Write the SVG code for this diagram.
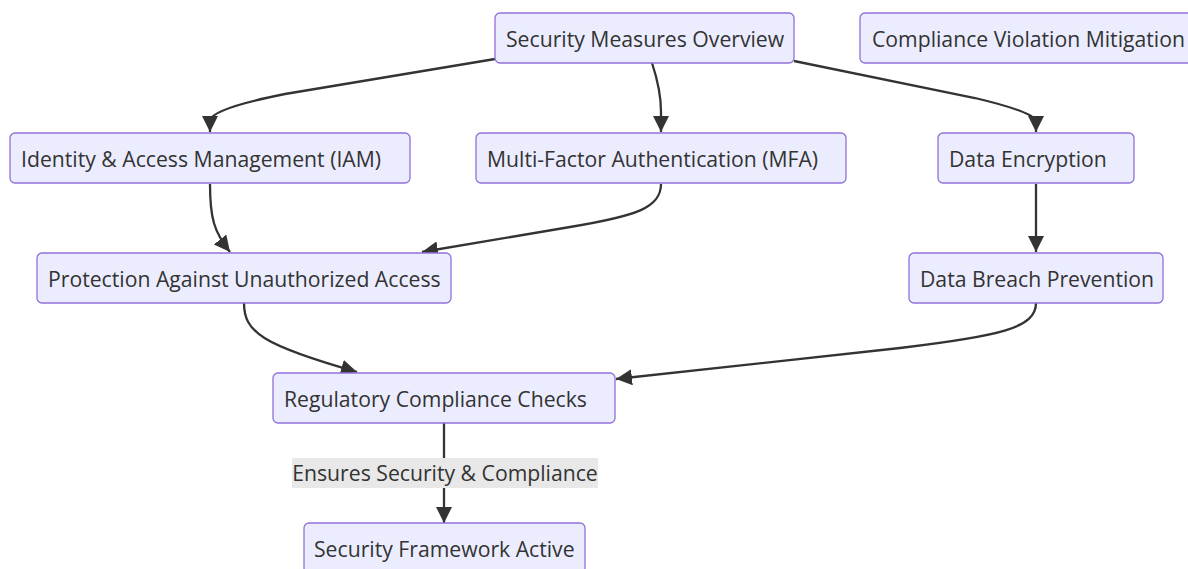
<svg xmlns="http://www.w3.org/2000/svg" width="1188" height="569" viewBox="0 0 1188 569">
  <style>
    .node rect { fill: #ECECFF; stroke: #9370DB; stroke-width: 1.3; }
    .node text { font-family: "Open Sans", "Noto Sans", "DejaVu Sans", sans-serif; font-size: 21.2px; fill: #333333; }
    .edge { fill: none; stroke: #333333; stroke-width: 2.3; }
    .edge-label rect { fill: #E8E8E8; }
    .edge-label text { font-family: "Open Sans", "Noto Sans", "DejaVu Sans", sans-serif; font-size: 21.2px; fill: #333333; text-anchor: middle; }
  </style>
  <defs>
    <marker id="arrow" viewBox="0 0 10 10" refX="10" refY="5" markerUnits="userSpaceOnUse" markerWidth="16" markerHeight="16" orient="auto">
      <path d="M0,0 L10,5 L0,10 z" fill="#333333"/>
    </marker>
  </defs>

  <rect width="1188" height="569" fill="#FFFFFF"/>

  <!-- connectors -->
  <g id="connectors">
    <path class="edge" d="M495,59 L285,94 Q214,108 210,120 L210,132" marker-end="url(#arrow)"/>
    <path class="edge" d="M652,63 Q661,90 661,112 L661,132" marker-end="url(#arrow)"/>
    <path class="edge" d="M794,61 L975,98 Q1034,112 1036,121 L1036,132" marker-end="url(#arrow)"/>
    <path class="edge" d="M210,184 C210,218 214,232 230,252" marker-end="url(#arrow)"/>
    <path class="edge" d="M661,184 C661,208 636,216 570,227 L422,252" marker-end="url(#arrow)"/>
    <path class="edge" d="M1036,184 L1036,252" marker-end="url(#arrow)"/>
    <path class="edge" d="M244,303 C244,332 262,345 357,372" marker-end="url(#arrow)"/>
    <path class="edge" d="M1036,303 C1036,328 1000,336 900,348 L616,379" marker-end="url(#arrow)"/>
    <path class="edge" d="M444,423 L444,523" marker-end="url(#arrow)"/>
    <g class="edge-label">
      <rect x="292" y="458" width="306" height="30"/>
      <text x="445" y="481">Ensures Security &amp; Compliance</text>
    </g>
  </g>

  <!-- nodes -->
  <g id="security-measures-overview" class="node">
    <rect x="495" y="13" width="299" height="50" rx="5"/>
    <text x="506" y="46.5">Security Measures Overview</text>
  </g>
  <g id="compliance-violation-mitigation" class="node">
    <rect x="860" y="13" width="340" height="50" rx="5"/>
    <text x="872" y="46.5">Compliance Violation Mitigation</text>
  </g>
  <g id="iam" class="node">
    <rect x="10" y="133" width="400" height="50" rx="5"/>
    <text x="21" y="166.5">Identity &amp; Access Management (IAM)</text>
  </g>
  <g id="mfa" class="node">
    <rect x="476" y="133" width="370" height="50" rx="5"/>
    <text x="487" y="166.5">Multi-Factor Authentication (MFA)</text>
  </g>
  <g id="data-encryption" class="node">
    <rect x="938" y="133" width="196" height="50" rx="5"/>
    <text x="949" y="166.5">Data Encryption</text>
  </g>
  <g id="unauthorized-access-protection" class="node">
    <rect x="37" y="253" width="414" height="50" rx="5"/>
    <text x="48" y="286.5">Protection Against Unauthorized Access</text>
  </g>
  <g id="data-breach-prevention" class="node">
    <rect x="909" y="253" width="254" height="50" rx="5"/>
    <text x="920" y="286.5">Data Breach Prevention</text>
  </g>
  <g id="regulatory-compliance-checks" class="node">
    <rect x="273" y="373" width="342" height="50" rx="5"/>
    <text x="284" y="406.5">Regulatory Compliance Checks</text>
  </g>
  <g id="security-framework-active" class="node">
    <rect x="304" y="523" width="281" height="50" rx="5"/>
    <text x="314" y="556.5">Security Framework Active</text>
  </g>
</svg>
